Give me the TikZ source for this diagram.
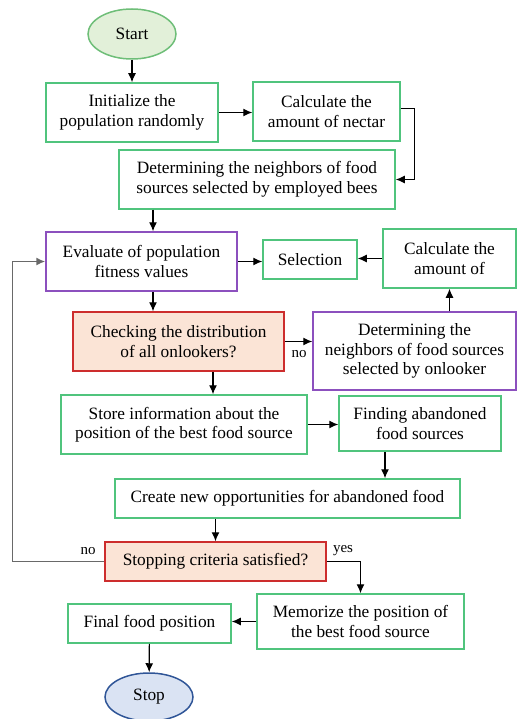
\documentclass[tikz,border=0pt]{standalone}
\usepackage{fontspec}
\setmainfont{Liberation Serif}
\usetikzlibrary{arrows.meta,shapes.geometric}

\definecolor{boxgreen}{RGB}{80,196,125}
\definecolor{boxpurple}{RGB}{140,80,190}
\definecolor{boxred}{RGB}{205,45,45}
\definecolor{peach}{RGB}{251,228,214}
\definecolor{startfill}{RGB}{226,240,217}
\definecolor{startline}{RGB}{110,190,120}
\definecolor{stopfill}{RGB}{218,227,243}
\definecolor{stopline}{RGB}{47,85,151}
\definecolor{loopgray}{RGB}{105,105,105}

\tikzset{
  every node/.style={font=\fontsize{17.3}{19.5}\selectfont, align=center, inner sep=0pt},
  gbox/.style={draw=boxgreen, line width=1.5pt, fill=white},
  pbox/.style={draw=boxpurple, line width=1.5pt, fill=white},
  rbox/.style={draw=boxred, line width=1.5pt, fill=peach},
  term/.style={ellipse, line width=1.5pt},
  arr/.style={-{Latex[length=9pt,width=8pt]}, line width=1.2pt},
  lbl/.style={font=\fontsize{15}{17}\selectfont}
}

\begin{document}
\begin{tikzpicture}[x=1pt,y=-1pt]
\useasboundingbox (0,0) rectangle (518,719);

% terminals
\node[term, draw=startline, fill=startfill, minimum width=88, minimum height=50] (start) at (132,34) {Start};
\node[term, draw=stopline, fill=stopfill, minimum width=88, minimum height=48] (stop) at (149,697) {Stop};

% employed bees phase
\node[gbox, minimum width=172, minimum height=59] (init) at (132,112.5) {Initialize the\\population randomly};
\node[gbox, minimum width=147, minimum height=59] (nectar) at (326.5,111.5) {Calculate the\\amount of nectar};
\node[gbox, minimum width=276, minimum height=59] (employed) at (257,179.5) {Determining the neighbors of food\\sources selected by employed bees};

% onlooker phase
\node[pbox, minimum width=191, minimum height=59] (eval) at (141.5,261.5) {Evaluate of population\\fitness values};
\node[gbox, minimum width=94, minimum height=39] (select) at (310,259.5) {Selection};
\node[gbox, minimum width=133, minimum height=59] (amount) at (449.5,258.5) {Calculate the\\amount of};
\node[rbox, minimum width=211, minimum height=59] (check) at (178.5,341.5) {Checking the distribution\\of all onlookers?};
\node[pbox, minimum width=203, minimum height=78] (onlooker) at (414.5,351) {Determining the\\neighbors of food sources\\selected by onlooker};

% scout phase
\node[gbox, minimum width=246, minimum height=59] (store) at (184,424.5) {Store information about the\\position of the best food source};
\node[gbox, minimum width=162, minimum height=55] (finding) at (420,423.5) {Finding abandoned\\food sources};
\node[gbox, minimum width=345, minimum height=39] (create) at (287.5,498.5) {Create new opportunities for abandoned food};
\node[rbox, minimum width=221, minimum height=39] (stopcrit) at (215.5,561.5) {Stopping criteria satisfied?};
\node[gbox, minimum width=207, minimum height=55] (memorize) at (360.5,621.5) {Memorize the position of\\the best food source};
\node[gbox, minimum width=163, minimum height=39] (final) at (149.5,623.5) {Final food position};

% helper points for off-centre arrows
\path (eval.north) ++(11.5,0) coordinate (evalx);
\path (check.south) ++(34.5,0) coordinate (checkx);
\path (finding.south) ++(-35,0) coordinate (findx);

% connectors
\draw[arr] (start) -- (init);
\draw[arr] (init.east) -- (nectar.west |- init.east);
\draw[arr] ([yshift=3]nectar.east) -- ++(14,0) |- (employed.east);
\draw[arr] (evalx |- employed.south) -- (evalx);
\draw[arr] (eval.east) -- (select.west |- eval.east);
\draw[arr] (amount.west) -- (select.east |- amount.west);
\draw[arr] (evalx |- eval.south) -- (evalx |- check.north);
\draw[arr] (check.east) -- (onlooker.west |- check.east);
\node[lbl] (no1) at (299,354) {no};
\draw[arr] (amount.south |- onlooker.north) -- (amount.south);
\draw[arr] (checkx) -- (checkx |- store.north);
\draw[arr] (store.east) -- (finding.west |- store.east);
\draw[arr] (findx) -- (findx |- create.north);
\draw[arr] (create.south -| stopcrit.north) -- (stopcrit.north);
\draw[arr, draw=loopgray, line width=1.5pt] (stopcrit.west) -- ++(-92,0) |- (eval.west);
\node[lbl] (no2) at (88,551) {no};
\draw[arr] (stopcrit.east) -| (memorize.north);
\node[lbl] (yes) at (343,551) {yes};
\draw[arr] (memorize.west) -- (final.east |- memorize.west);
\draw[arr] (final) -- (stop);
\end{tikzpicture}
\end{document}
